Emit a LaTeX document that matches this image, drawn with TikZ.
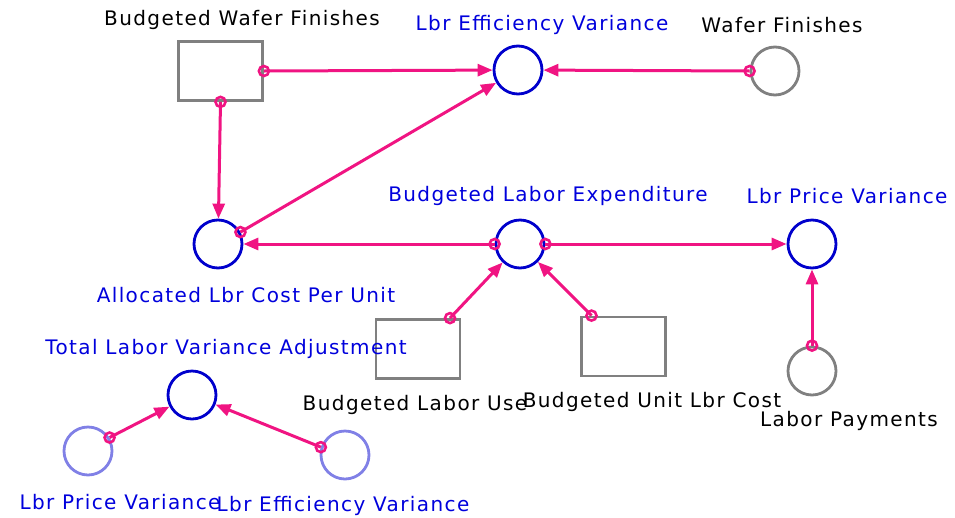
\documentclass[tikz,border=0pt]{standalone}
\usepackage{fontspec}
\setmainfont{DejaVu Sans}[LetterSpace=7]
\usetikzlibrary{arrows.meta}
\definecolor{mag}{RGB}{240,20,130}
\definecolor{vblue}{RGB}{0,0,204}
\definecolor{lblue}{RGB}{0,0,220}
\definecolor{ghost}{RGB}{128,128,230}
\definecolor{gry}{RGB}{128,128,128}
\tikzset{
  aux/.style={circle,draw=vblue,line width=2.8pt,minimum size=48pt,inner sep=0pt},
  cloudc/.style={circle,draw=gry,line width=2.8pt,minimum size=48pt,inner sep=0pt},
  ghostc/.style={circle,draw=ghost,line width=2.8pt,minimum size=48pt,inner sep=0pt},
  stockbox/.style={rectangle,draw=gry,line width=2.8pt,minimum width=84pt,minimum height=59pt,inner sep=0pt},
  blab/.style={text=lblue,font=\fontsize{20}{23}\selectfont,inner sep=0pt},
  klab/.style={text=black,font=\fontsize{20}{23}\selectfont,inner sep=0pt},
  link/.style={draw=mag,line width=3pt,-{Triangle[length=15pt,width=12pt]}},
  startdot/.style={circle,draw=mag,line width=2.6pt,fill=none,minimum size=10pt,inner sep=0pt,pos=0,sloped=false},
}
\begin{document}
\begin{tikzpicture}[x=1pt,y=-1pt]
\useasboundingbox (0,0) rectangle (955,517);
% nodes
\node[stockbox] (bwf) at (220.5,71) {};
\node[aux] (lev) at (518,70) {};
\node[cloudc] (wf) at (775,71) {};
\node[aux] (alc) at (218,244) {};
\node[aux] (ble) at (520,244) {};
\node[aux] (lpv) at (812,244) {};
\node[stockbox] (blu) at (418,349) {};
\node[stockbox] (buc) at (623.5,346.5) {};
\node[cloudc] (lp) at (812,371) {};
\node[aux] (tlva) at (192,395) {};
\node[ghostc] (glpv) at (88,451) {};
\node[ghostc] (glev) at (345,455) {};
% labels
\node[klab] (lbwf) at (242,20) {Budgeted Wafer Finishes};
\node[blab] (llev) at (542,25) {Lbr Efficiency Variance};
\node[klab] (lwf) at (782,25) {Wafer Finishes};
\node[blab] (lble) at (548,196) {Budgeted Labor Expenditure};
\node[blab] (llpv) at (847,196) {Lbr Price Variance};
\node[blab] (lalc) at (246,295) {Allocated Lbr Cost Per Unit};
\node[blab] (ltlva) at (226,349) {Total Labor Variance Adjustment};
\node[klab] (lblu) at (415,405) {Budgeted Labor Use};
\node[klab] (lbuc) at (652,402) {Budgeted Unit Lbr Cost};
\node[klab] (llp) at (849,421) {Labor Payments};
\node[blab] (lglpv) at (120,502) {Lbr Price Variance};
\node[blab] (lglev) at (343,506) {Lbr Efficiency Variance};
% connectors
\draw[link] (bwf.east) -- node[startdot]{} (lev);
\draw[link] (bwf.south) -- node[startdot]{} (alc);
\draw[link] (wf.west) -- node[startdot]{} (lev);
\draw[link] (alc.28) -- node[startdot]{} (lev);
\draw[link] (ble.west) -- node[startdot]{} (alc);
\draw[link] (ble.east) -- node[startdot]{} (lpv);
\draw[link] (blu.44) -- node[startdot]{} (ble);
\draw[link] (buc.136) -- node[startdot]{} (ble);
\draw[link] (lp.north) -- node[startdot]{} (lpv);
\draw[link] (glpv.32) -- node[startdot]{} (tlva);
\draw[link] (glev.162) -- node[startdot]{} (tlva);
\end{tikzpicture}
\end{document}
